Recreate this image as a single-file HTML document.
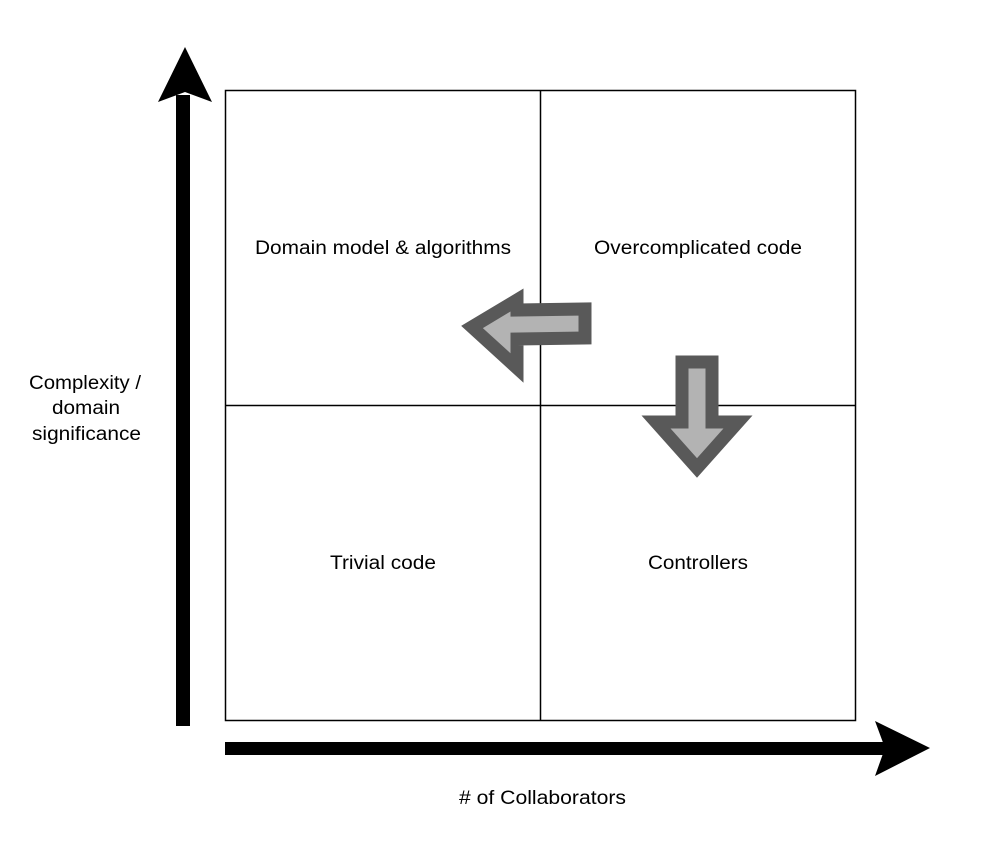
<!DOCTYPE html>
<html><head><style>
body{margin:0;background:#fff;}
svg{display:block;}
text{font-family:"Liberation Sans",sans-serif;font-size:19px;fill:#000;}
</style></head><body>
<svg width="1005" height="862" viewBox="0 0 1005 862">
<rect x="225.5" y="90.5" width="630" height="630" fill="#fff" stroke="#000" stroke-width="1.5"/>
<line x1="540.5" y1="90" x2="540.5" y2="720" stroke="#000" stroke-width="1.5"/>
<line x1="225" y1="405.5" x2="855" y2="405.5" stroke="#000" stroke-width="1.5"/>
<rect x="176" y="95" width="14" height="631" fill="#000"/>
<polygon points="185,47 212,102 185,92 158,102" fill="#000"/>
<rect x="225" y="742" width="660" height="13" fill="#000"/>
<polygon points="930,748 875,776 885,748 875,721" fill="#000"/>
<polygon points="472,327 517,300 517,310 585,309 585,338 517,339 517,368" fill="#b3b3b3" stroke="#595959" stroke-width="13" stroke-linejoin="miter"/>
<polygon points="682,362 712,362 712,422 738,422 697,468 656,422 682,422" fill="#b3b3b3" stroke="#595959" stroke-width="13"/>
<text x="255" y="254" textLength="256" lengthAdjust="spacingAndGlyphs">Domain model &amp; algorithms</text>
<text x="594" y="254" textLength="208" lengthAdjust="spacingAndGlyphs">Overcomplicated code</text>
<text x="330" y="569" textLength="106" lengthAdjust="spacingAndGlyphs">Trivial code</text>
<text x="648" y="569" textLength="100" lengthAdjust="spacingAndGlyphs">Controllers</text>
<text x="29" y="389" textLength="112" lengthAdjust="spacingAndGlyphs">Complexity /</text>
<text x="52" y="414" textLength="68" lengthAdjust="spacingAndGlyphs">domain</text>
<text x="32" y="440" textLength="109" lengthAdjust="spacingAndGlyphs">significance</text>
<text x="459" y="804" textLength="167" lengthAdjust="spacingAndGlyphs"># of Collaborators</text>
</svg>
</body></html>
